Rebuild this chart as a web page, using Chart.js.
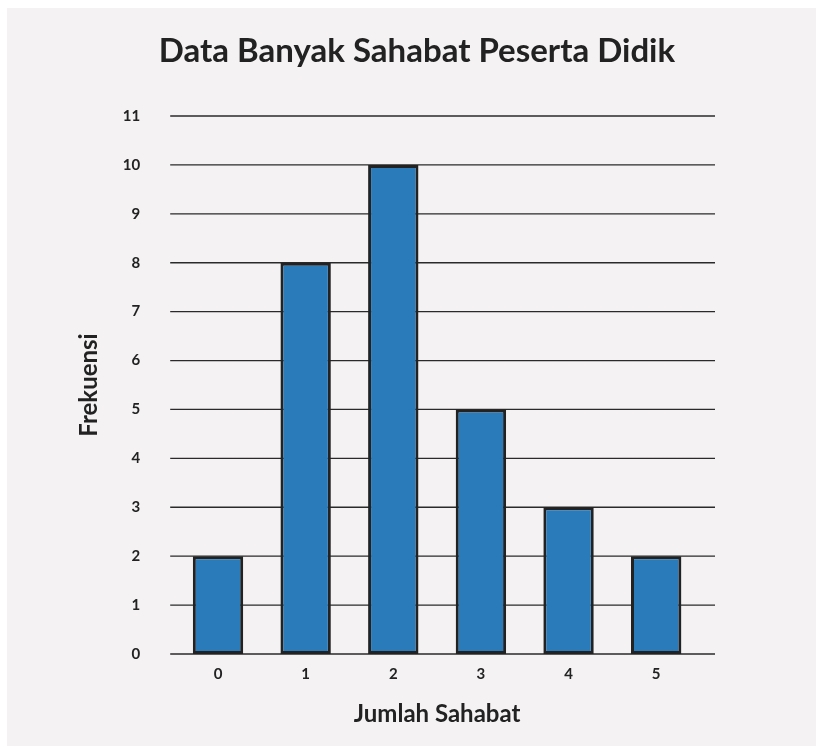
<!DOCTYPE html>
<html>
<head>
<meta charset="utf-8">
<script src="https://cdn.jsdelivr.net/npm/chart.js"></script>
<style>
  html, body { margin: 0; padding: 0; background: #ffffff; }
  #panel { position: absolute; left: 7px; top: 8px; width: 809px; height: 738px; background: #f4f2f3; }
  canvas { display: block; }
</style>
</head>
<body>
<div id="panel"><canvas id="c" width="809" height="738"></canvas></div>
<script>
// data
const categories = ['0', '1', '2', '3', '4', '5'];
const frekuensi = [2, 8, 10, 5, 3, 2];
const yMax = 11;

const chartTitle = 'Data Banyak Sahabat Peserta Didik';
const xTitle = 'Jumlah Sahabat';
const yTitle = 'Frekuensi';

const ink = '#222222';

// horizontal grid lines run a bit wider than the bars area
const wideGrid = {
  id: 'wideGrid',
  beforeDatasetsDraw(chart) {
    const y = chart.scales.y;
    const a = chart.chartArea;
    const ctx = chart.ctx;
    ctx.save();
    ctx.strokeStyle = '#2a2a2a';
    ctx.lineWidth = 1.3;
    y.ticks.forEach(t => {
      const py = y.getPixelForValue(t.value);
      ctx.beginPath();
      ctx.moveTo(a.left - 4, py);
      ctx.lineTo(a.right + 15, py);
      ctx.stroke();
    });
    ctx.restore();
  }
};

new Chart(document.getElementById('c').getContext('2d'), {
  type: 'bar',
  data: {
    labels: categories,
    datasets: [{
      data: frekuensi,
      backgroundColor: '#2a7bba',
      borderColor: ink,
      borderWidth: 3,
      borderSkipped: false,
      categoryPercentage: 1,
      barPercentage: 0.575
    }]
  },
  options: {
    responsive: false,
    animation: false,
    layout: { padding: { left: 68, right: 57, top: 0, bottom: 17.6 } },
    plugins: {
      legend: { display: false },
      tooltip: { enabled: false },
      title: {
        display: true,
        text: chartTitle,
        color: ink,
        font: { family: 'Lato', size: 33, weight: 'bold' },
        padding: { top: 24, bottom: 44.4 }
      }
    },
    scales: {
      x: {
        grid: { display: false, drawTicks: false },
        border: { display: false },
        ticks: { color: ink, padding: 11, font: { family: 'Lato', size: 15, weight: 'bold' } },
        title: {
          display: true, text: xTitle, color: ink,
          font: { family: 'Lato', size: 24, weight: 'bold' },
          padding: { top: 5.6, bottom: 0 }
        }
      },
      y: {
        min: 0, max: yMax,
        grid: { display: false, drawTicks: false },
        border: { display: false },
        ticks: { stepSize: 1, color: ink, padding: 34, font: { family: 'Lato', size: 15, weight: 'bold' } },
        title: {
          display: true, text: yTitle, color: ink,
          font: { family: 'Lato', size: 24, weight: 'bold' },
          padding: { top: 0, bottom: -15 }
        }
      },
      // empty spacer on the right so the plot sits where the original has it
      spacer: {
        type: 'linear',
        position: 'right',
        grid: { display: false, drawTicks: false },
        border: { display: false },
        ticks: { display: false },
        afterFit(scale) { scale.width = 59; }
      }
    }
  },
  plugins: [wideGrid]
});
</script>
</body>
</html>
